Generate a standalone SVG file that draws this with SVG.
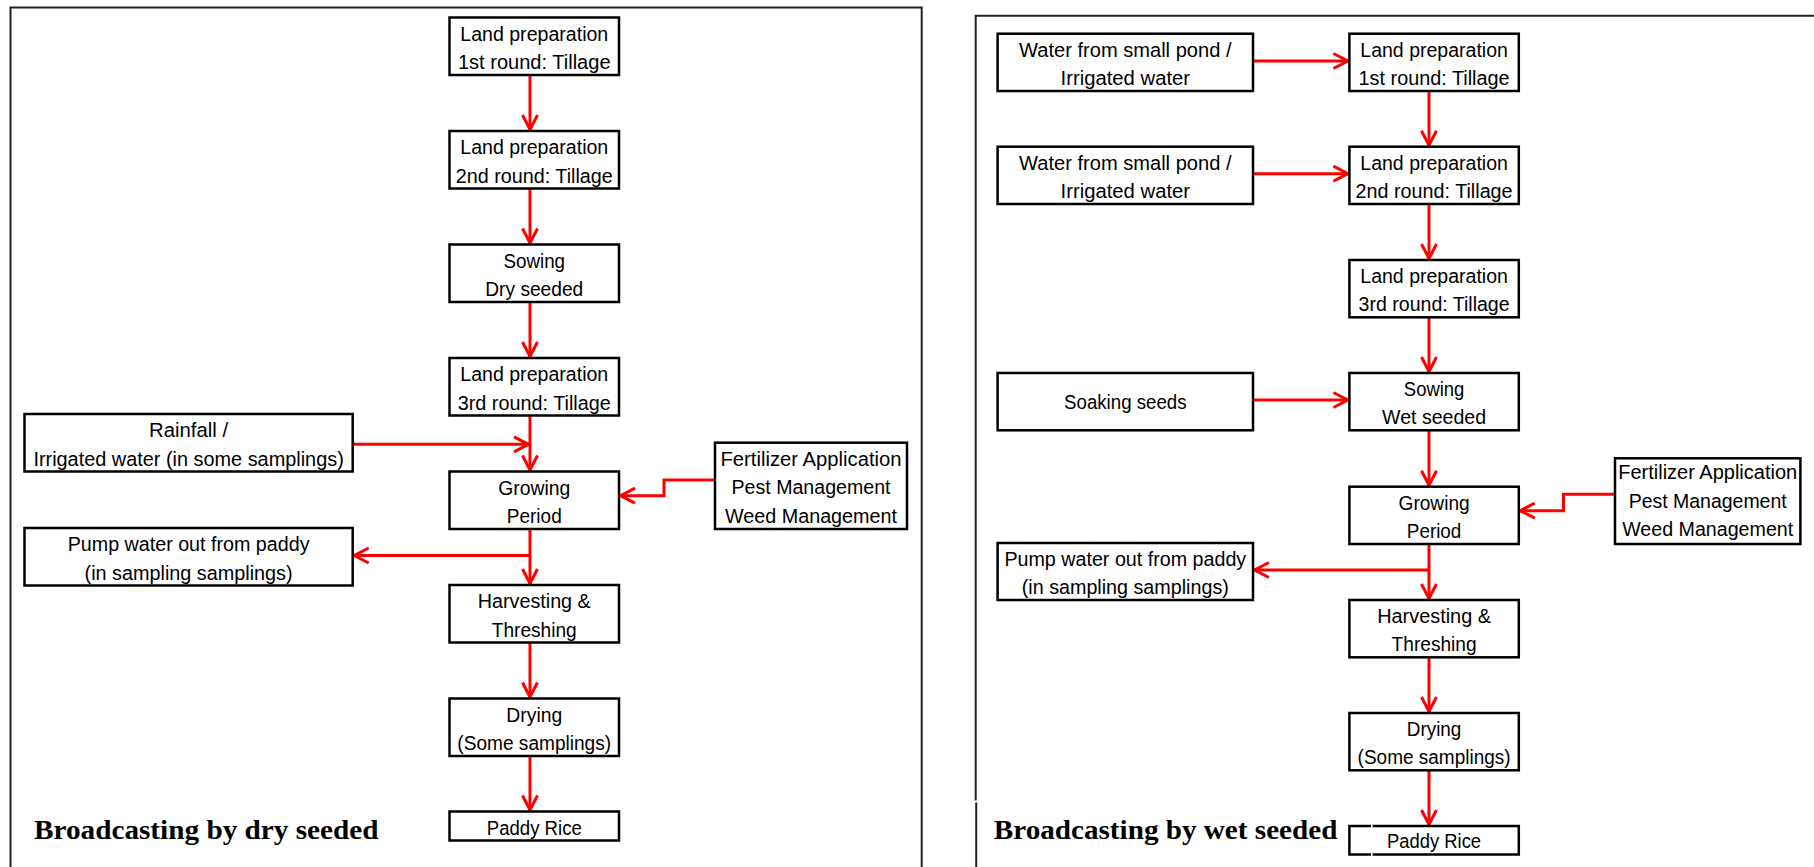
<svg xmlns="http://www.w3.org/2000/svg" width="1814" height="867" viewBox="0 0 1814 867">
<style>
.frame{fill:none;stroke:#222;stroke-width:2}
.box{fill:#fff;stroke:#000;stroke-width:2.5}
.boxo{fill:none;stroke:#000;stroke-width:2.5}
.t{font-family:"Liberation Sans",Arial,sans-serif;font-size:20px;fill:#000;text-anchor:middle}
.title{font-family:"Liberation Serif","Times New Roman",serif;font-size:28px;font-weight:bold;fill:#000}
.c{fill:none;stroke:#f00;stroke-width:3;marker-end:url(#ah)}
</style>
<defs>
<marker id="ah" markerUnits="userSpaceOnUse" markerWidth="24" markerHeight="24" viewBox="-20 -12 24 24" refX="0" refY="0" orient="auto">
<path d="M-16,-7.5 L-1.5,0 L-16,7.5" fill="none" stroke="#f00" stroke-width="3"/>
</marker>
</defs>
<rect width="1814" height="867" fill="#fff"/>
<g id="frames">
<path class="frame" d="M10.5,870 V7.5 H921.7 V870"/>
<path class="frame" d="M975.7,800.5 V15.7 H1820"/>
<path class="frame" d="M976.2,802.5 V870"/>
</g>
<g id="connectors">
<path class="c" d="M530,75 V131"/>
<path class="c" d="M530,188.5 V244.5"/>
<path class="c" d="M530,302 V358"/>
<path class="c" d="M530,415.5 V471.5"/>
<path class="c" d="M352.7,444.3 H530"/>
<path class="c" d="M530,529 V585"/>
<path class="c" d="M530,555.5 H352.7"/>
<path class="c" d="M715,480 H664 V495.7 H619"/>
<path class="c" d="M530,642.5 V698.5"/>
<path class="c" d="M530,756 V811.5"/>
<path class="c" d="M1253,61 H1349.4"/>
<path class="c" d="M1253,173.7 H1349.4"/>
<path class="c" d="M1253,400 H1349.4"/>
<path class="c" d="M1429,91 V146.7"/>
<path class="c" d="M1429,204 V260"/>
<path class="c" d="M1429,317.3 V373"/>
<path class="c" d="M1429,430.3 V486.7"/>
<path class="c" d="M1615,494.3 H1563.5 V510.7 H1518.8"/>
<path class="c" d="M1429,544 V600"/>
<path class="c" d="M1429,570 H1253"/>
<path class="c" d="M1429,657.3 V713"/>
<path class="c" d="M1429,770.3 V826"/>
</g>
<g id="L1"><rect class="box" x="449.5" y="17.5" width="169.5" height="57.5"/><text class="t" x="534.25" y="40.5" textLength="148" lengthAdjust="spacingAndGlyphs">Land preparation</text><text class="t" x="534.25" y="69" textLength="152.6" lengthAdjust="spacingAndGlyphs">1st round: Tillage</text></g>
<g id="L2"><rect class="box" x="449.5" y="131" width="169.5" height="57.5"/><text class="t" x="534.25" y="154" textLength="148" lengthAdjust="spacingAndGlyphs">Land preparation</text><text class="t" x="534.25" y="182.5" textLength="157" lengthAdjust="spacingAndGlyphs">2nd round: Tillage</text></g>
<g id="L3"><rect class="box" x="449.5" y="244.5" width="169.5" height="57.5"/><text class="t" x="534.25" y="267.5" textLength="61.6" lengthAdjust="spacingAndGlyphs">Sowing</text><text class="t" x="534.25" y="296" textLength="98" lengthAdjust="spacingAndGlyphs">Dry seeded</text></g>
<g id="L4"><rect class="box" x="449.5" y="358" width="169.5" height="57.5"/><text class="t" x="534.25" y="381" textLength="148" lengthAdjust="spacingAndGlyphs">Land preparation</text><text class="t" x="534.25" y="409.5" textLength="153" lengthAdjust="spacingAndGlyphs">3rd round: Tillage</text></g>
<g id="L5"><rect class="box" x="449.5" y="471.5" width="169.5" height="57.5"/><text class="t" x="534.25" y="494.5" textLength="72" lengthAdjust="spacingAndGlyphs">Growing</text><text class="t" x="534.25" y="523" textLength="55" lengthAdjust="spacingAndGlyphs">Period</text></g>
<g id="L6"><rect class="box" x="449.5" y="585" width="169.5" height="57.5"/><text class="t" x="534.25" y="608" textLength="113" lengthAdjust="spacingAndGlyphs">Harvesting &amp;</text><text class="t" x="534.25" y="636.5" textLength="85" lengthAdjust="spacingAndGlyphs">Threshing</text></g>
<g id="L7"><rect class="box" x="449.5" y="698.5" width="169.5" height="57.5"/><text class="t" x="534.25" y="721.5" textLength="56" lengthAdjust="spacingAndGlyphs">Drying</text><text class="t" x="534.25" y="750" textLength="153.8" lengthAdjust="spacingAndGlyphs">(Some samplings)</text></g>
<g id="L8"><rect class="box" x="449.5" y="811.5" width="169.5" height="29"/><text class="t" x="534.25" y="834.5" textLength="95" lengthAdjust="spacingAndGlyphs">Paddy Rice</text></g>
<g id="Lrain"><rect class="box" x="24.5" y="414" width="328.2" height="57.5"/><text class="t" x="188.6" y="437" textLength="79" lengthAdjust="spacingAndGlyphs">Rainfall /</text><text class="t" x="188.6" y="465.5" textLength="310.4" lengthAdjust="spacingAndGlyphs">Irrigated water (in some samplings)</text></g>
<g id="Lpump"><rect class="box" x="24.5" y="528" width="328.2" height="57.5"/><text class="t" x="188.6" y="551" textLength="241.8" lengthAdjust="spacingAndGlyphs">Pump water out from paddy</text><text class="t" x="188.6" y="579.5" textLength="208" lengthAdjust="spacingAndGlyphs">(in sampling samplings)</text></g>
<g id="Lfert"><rect class="box" x="715" y="442.7" width="192" height="86.3"/><text class="t" x="811" y="465.5" textLength="181" lengthAdjust="spacingAndGlyphs">Fertilizer Application</text><text class="t" x="811" y="494" textLength="159" lengthAdjust="spacingAndGlyphs">Pest Management</text><text class="t" x="811" y="522.5" textLength="172" lengthAdjust="spacingAndGlyphs">Weed Management</text></g>
<g id="Ltitle"><text class="title" x="34" y="839.3" textLength="344.5" lengthAdjust="spacingAndGlyphs">Broadcasting by dry seeded</text></g>
<g id="R1"><rect class="box" x="1349.4" y="33.7" width="169.4" height="57.3"/><text class="t" x="1434.1" y="56.7" textLength="147.6" lengthAdjust="spacingAndGlyphs">Land preparation</text><text class="t" x="1434.1" y="85" textLength="151" lengthAdjust="spacingAndGlyphs">1st round: Tillage</text></g>
<g id="R2"><rect class="box" x="1349.4" y="146.7" width="169.4" height="57.3"/><text class="t" x="1434.1" y="169.7" textLength="147.6" lengthAdjust="spacingAndGlyphs">Land preparation</text><text class="t" x="1434.1" y="198" textLength="157" lengthAdjust="spacingAndGlyphs">2nd round: Tillage</text></g>
<g id="R3"><rect class="box" x="1349.4" y="260" width="169.4" height="57.3"/><text class="t" x="1434.1" y="283" textLength="147.6" lengthAdjust="spacingAndGlyphs">Land preparation</text><text class="t" x="1434.1" y="311.3" textLength="151" lengthAdjust="spacingAndGlyphs">3rd round: Tillage</text></g>
<g id="R4"><rect class="box" x="1349.4" y="373" width="169.4" height="57.3"/><text class="t" x="1434.1" y="396" textLength="60.5" lengthAdjust="spacingAndGlyphs">Sowing</text><text class="t" x="1434.1" y="424.3" textLength="104" lengthAdjust="spacingAndGlyphs">Wet seeded</text></g>
<g id="R5"><rect class="box" x="1349.4" y="486.7" width="169.4" height="57.3"/><text class="t" x="1434.1" y="509.7" textLength="71" lengthAdjust="spacingAndGlyphs">Growing</text><text class="t" x="1434.1" y="538" textLength="54.5" lengthAdjust="spacingAndGlyphs">Period</text></g>
<g id="R6"><rect class="box" x="1349.4" y="600" width="169.4" height="57.3"/><text class="t" x="1434.1" y="623" textLength="113.8" lengthAdjust="spacingAndGlyphs">Harvesting &amp;</text><text class="t" x="1434.1" y="651.3" textLength="85" lengthAdjust="spacingAndGlyphs">Threshing</text></g>
<g id="R7"><rect class="box" x="1349.4" y="713" width="169.4" height="57.3"/><text class="t" x="1434.1" y="736" textLength="54.5" lengthAdjust="spacingAndGlyphs">Drying</text><text class="t" x="1434.1" y="764.3" textLength="153" lengthAdjust="spacingAndGlyphs">(Some samplings)</text></g>
<g id="R8"><rect x="1349.4" y="826" width="169.4" height="28.5" fill="#fff"/><path class="boxo" d="M1371,826 H1349.4 V854.5 H1371 M1372.6,826 H1518.8 V854.5 H1372.6"/><text class="t" x="1434.1" y="848" textLength="94" lengthAdjust="spacingAndGlyphs">Paddy Rice</text></g>
<g id="Rwater1"><rect class="box" x="997.6" y="33.7" width="255.4" height="57.3"/><text class="t" x="1125.3" y="56.7" textLength="212.4" lengthAdjust="spacingAndGlyphs">Water from small pond /</text><text class="t" x="1125.3" y="85" textLength="129.6" lengthAdjust="spacingAndGlyphs">Irrigated water</text></g>
<g id="Rwater2"><rect class="box" x="997.6" y="146.7" width="255.4" height="57.3"/><text class="t" x="1125.3" y="169.7" textLength="212.4" lengthAdjust="spacingAndGlyphs">Water from small pond /</text><text class="t" x="1125.3" y="198" textLength="129.6" lengthAdjust="spacingAndGlyphs">Irrigated water</text></g>
<g id="Rsoak"><rect class="box" x="997.6" y="373" width="255.4" height="57.3"/><text class="t" x="1125.3" y="408.5" textLength="122.5" lengthAdjust="spacingAndGlyphs">Soaking seeds</text></g>
<g id="Rpump"><rect class="box" x="997.6" y="543" width="255.4" height="57"/><text class="t" x="1125.3" y="566" textLength="241.8" lengthAdjust="spacingAndGlyphs">Pump water out from paddy</text><text class="t" x="1125.3" y="594.3" textLength="207" lengthAdjust="spacingAndGlyphs">(in sampling samplings)</text></g>
<g id="Rfert"><rect class="box" x="1615" y="458.3" width="185.4" height="85.7"/><text class="t" x="1707.7" y="479" textLength="179" lengthAdjust="spacingAndGlyphs">Fertilizer Application</text><text class="t" x="1707.7" y="507.5" textLength="158" lengthAdjust="spacingAndGlyphs">Pest Management</text><text class="t" x="1707.7" y="536" textLength="171" lengthAdjust="spacingAndGlyphs">Weed Management</text></g>
<g id="Rtitle"><text class="title" x="993.8" y="839.3" textLength="343.6" lengthAdjust="spacingAndGlyphs">Broadcasting by wet seeded</text></g>
</svg>
